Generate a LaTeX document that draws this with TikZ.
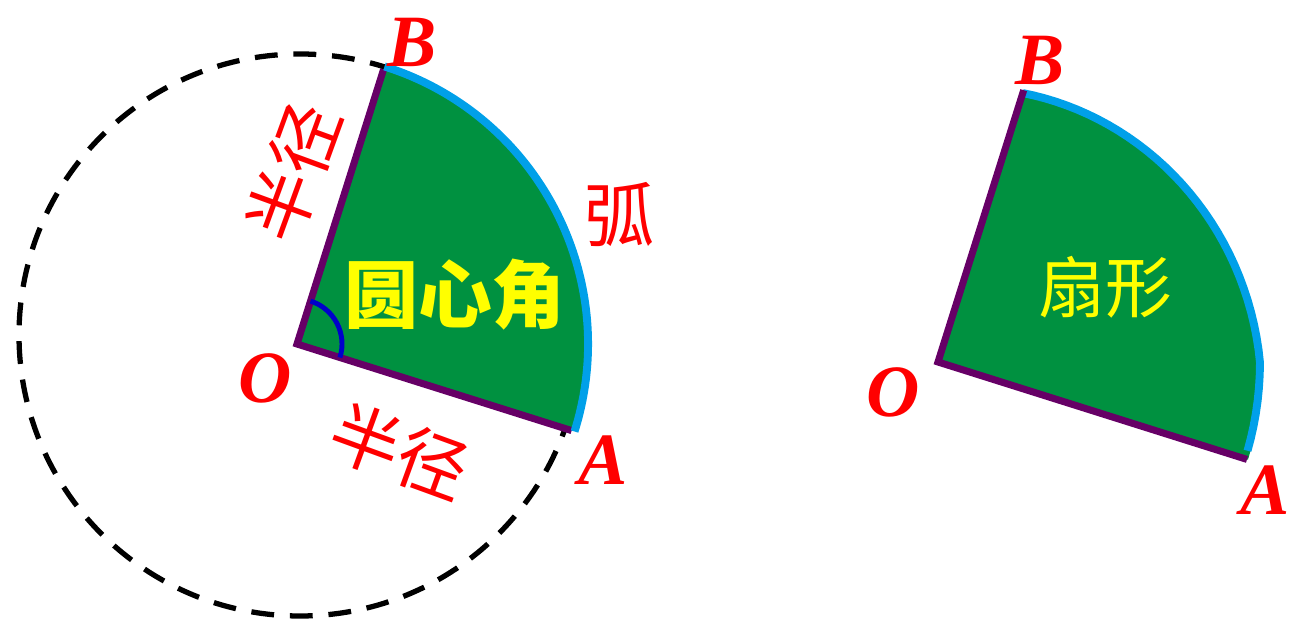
\documentclass[tikz,border=0pt]{standalone}
\usepackage{fontspec}
\setmainfont{Liberation Serif}
\newfontfamily\cjk{Noto Sans CJK SC}
\usepackage{tikz}
\usetikzlibrary{calc}
\definecolor{sectorGreen}{HTML}{009140}
\definecolor{radiusPurple}{HTML}{660066}
\definecolor{arcBlue}{HTML}{00A0E9}
\definecolor{angleBlue}{HTML}{0000CC}
\definecolor{labelRed}{HTML}{FF0000}
\definecolor{labelYellow}{HTML}{FFFF00}

\begin{document}
\begin{tikzpicture} [
    x=0.02cm, y=0.02cm,
    point/.style={text=labelRed, font=\fontsize{42}{42}\selectfont\bfseries\itshape, inner sep=0pt},
    word/.style={text=labelRed, font=\cjk\fontsize{40}{40}\selectfont, inner sep=0pt},
    inside/.style={text=labelYellow, inner sep=0pt},
    radius/.style={line width=4pt, color=radiusPurple, line cap=butt},
    arc/.style={line width=4.5pt, color=arcBlue}
]
    \useasboundingbox (0,0) rectangle (1289,619);

    % left: circle, sector and angle
    \draw[line width=3pt, dash pattern=on 13pt off 9pt] (300,284) circle (281);
    \coordinate (O) at (297,275);
    \coordinate (A) at ($(O)+(-17.5:288)$);
    \coordinate (B) at ($(O)+(72.5:288)$);
    \fill[sectorGreen] (O) -- (A) arc (-17.5:72.5:288) -- cycle;
    \draw[radius] (A) -- (O) -- (B);
    \draw[line width=2.8pt, color=angleBlue] ($(O)+(-17.5:45)$) arc (-17.5:72.5:45);
    \draw[arc] ($(A)+(-17.5:3)$) arc (-17.5:72.5:291);

    \node[point] (labelO) at (265,241) {O};
    \node[point] (labelA) at (603,159) {A};
    \node[point] (labelB) at (412,577) {B};
    \node[word, rotate=70] (radiusUp) at (293,447) {半径};
    \node[word, rotate=-20] (radiusDown) at (400,168) {半径};
    \node[word] (arcWord) at (620,404) {弧};
    \node[inside, font=\cjk\fontsize{42}{42}\selectfont\bfseries] (centralAngle) at (455,324) {圆心角};

    % right: sector only
    \coordinate (O2) at (938,257);
    \fill[sectorGreen] (O2) -- plot[domain=-17.5:72.5, samples=40]
        ({938+(325-40*max(0,\x)/72.5)*cos(\x)}, {257+(325-40*max(0,\x)/72.5)*sin(\x)}) -- cycle;
    \draw[arc] plot[domain=-16:72.5, samples=40]
        ({938+(322-40*max(0,\x)/72.5)*cos(\x)}, {257+(322-40*max(0,\x)/72.5)*sin(\x)});
    \coordinate (A2) at ($(O2)+(-17.5:324)$);
    \coordinate (B2) at ($(O2)+(72.5:285)$);
    \draw[radius] (A2) -- (O2) -- (B2);

    \node[point] (labelO2) at (893,227) {O};
    \node[point] (labelA2) at (1265,129) {A};
    \node[point] (labelB2) at (1040,559) {B};
    \node[inside, font=\cjk\fontsize{38}{38}\selectfont] (sectorWord) at (1105,332) {扇形};
\end{tikzpicture}
\end{document}
